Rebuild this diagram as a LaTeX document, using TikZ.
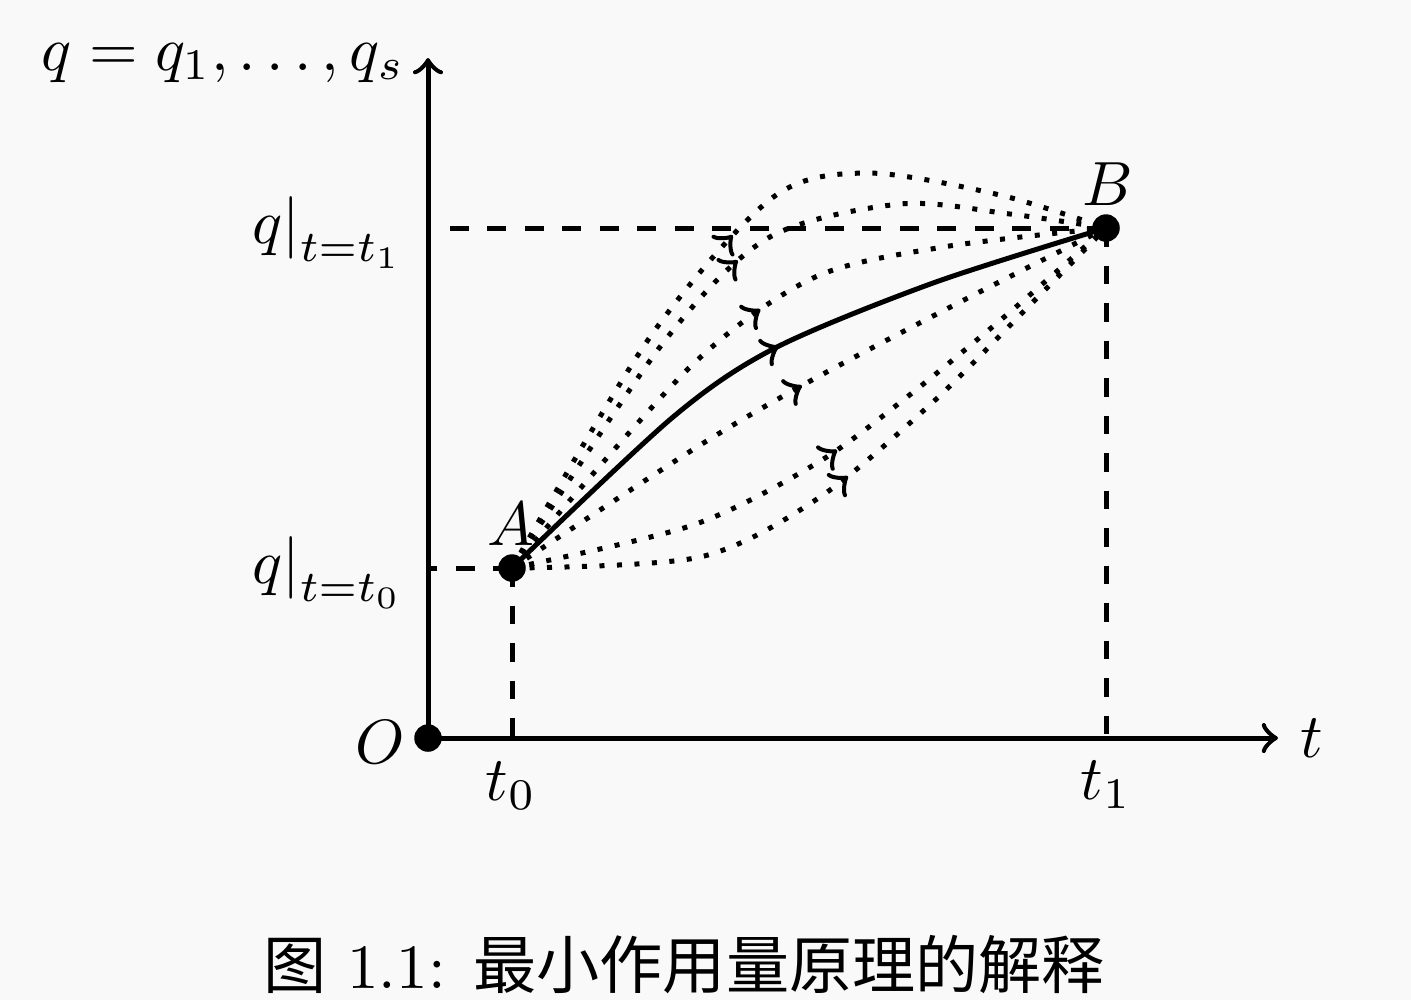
\documentclass[tikz,border=0pt]{standalone}
\usepackage{fontspec}
\newfontfamily\cjk{Noto Sans CJK SC}
\usetikzlibrary{decorations.markings}
\definecolor{bgcol}{RGB}{249,249,249}
\begin{document}
\begin{tikzpicture}[x=0.16pt, y=-0.16pt, thick,
  mid/.style={postaction={decorate}, decoration={markings, mark=at position 0.5 with {\arrow{>}}}},
  dotcurve/.style={dotted, mid},
  guide/.style={dashed},
  dotpt/.style={circle, fill=black, inner sep=0pt, minimum size=4.4pt},
  lbl/.style={inner sep=0pt}]
\fill[bgcol] (0,0) rectangle (1411,1000);
\useasboundingbox (0,0) rectangle (1411,1000);

% points
\coordinate (Oc) at (428,738);
\coordinate (yend) at (428,58);
\coordinate (xend) at (1278,738);
\coordinate (qa) at (428,568);
\coordinate (qb) at (428,228);
\coordinate (ta) at (512,738);
\coordinate (tb) at (1106,738);
\coordinate (Ac) at (512,568);
\coordinate (Bc) at (1106,228);

% axes
\draw[->] (Oc) -- (xend);
\draw[->] (Oc) -- (yend);

% guides
\draw[guide] (Ac) -- (qa);
\draw[guide] (Ac) -- (ta);
\draw[guide] (Bc) -- (qb);
\draw[guide] (Bc) -- (tb);

% curves
\draw[dotcurve] plot[smooth] coordinates {(512,568) (650,337) (772,198) (867,173) (1000,195) (1106,228)};
\draw[dotcurve] plot[smooth] coordinates {(512,568) (663,343) (768,238) (900,204) (1010,214) (1106,228)};
\draw[dotcurve] plot[smooth] coordinates {(512,568) (690,367) (813,278) (943,247) (1106,228)};
\draw[mid] plot[smooth] coordinates {(512,568) (673,417) (775,348) (933,283) (1106,228)};
\draw[dotcurve] plot[smooth] coordinates {(512,568) (697,447) (812,380) (960,302) (1106,228)};
\draw[dotcurve] plot[smooth] coordinates {(512,568) (693,525) (817,463) (907,397) (1010,312) (1106,228)};
\draw[dotcurve] plot[smooth] coordinates {(512,568) (700,557) (820,497) (933,402) (1027,308) (1106,228)};

% dots
\node[dotpt] (O) at (Oc) {};
\node[dotpt] (A) at (Ac) {};
\node[dotpt] (B) at (Bc) {};

% labels
\node[lbl, anchor=base east] (ylab) at (407,70) {$q = q_1, \ldots, q_s$};
\node[lbl, anchor=base east] (l1) at (406,243) {$\left.q\right|_{t=t_1}$};
\node[lbl, anchor=base east] (l0) at (406,583) {$\left.q\right|_{t=t_0}$};
\node[lbl] (Olab) at (380,742) {$O$};
\node[lbl] (t0) at (511,786) {$t_0$};
\node[lbl] (t1) at (1106,785) {$t_1$};
\node[lbl] (tl) at (1312,738) {$t$};
\node[lbl] (Al) at (511,524) {$A$};
\node[lbl] (Bl) at (1108,184) {$B$};

\node[lbl] (cap) at (684,965) {\fontsize{10.1}{12}\selectfont{\cjk 图} 1.1: {\cjk 最小作用量原理的解释}};
\end{tikzpicture}
\end{document}
